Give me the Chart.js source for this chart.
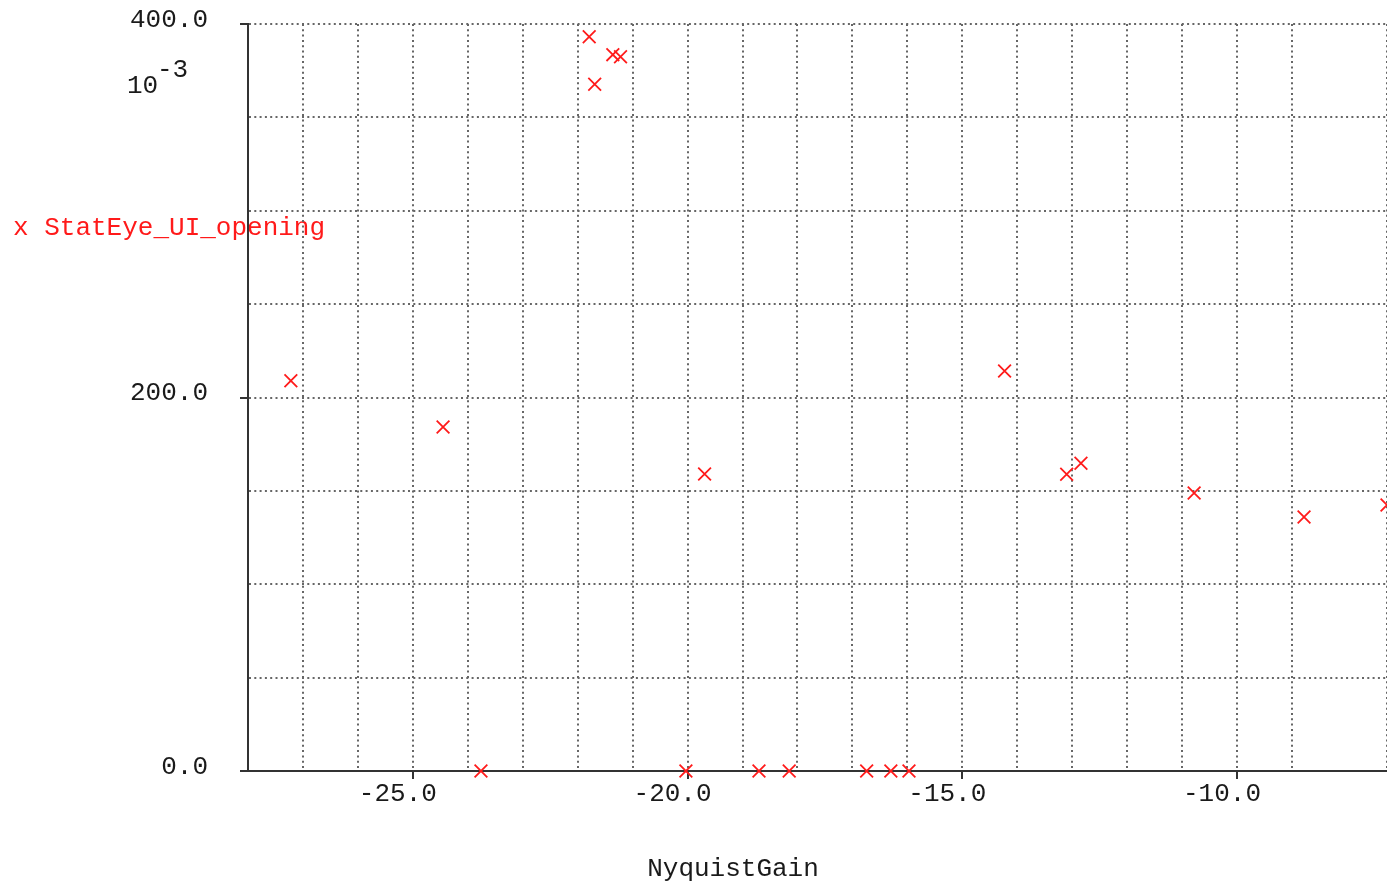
<!DOCTYPE html>
<html>
<head>
<meta charset="utf-8">
<script src="https://cdn.jsdelivr.net/npm/chart.js@4/dist/chart.umd.min.js"></script>
<style>
  html, body { margin: 0; padding: 0; background: #fff; }
  #wrap { width: 1387px; height: 885px; }
</style>
</head>
<body>
<div id="wrap"><canvas id="chart" width="1387" height="885"></canvas></div>
<script>
// NyquistGain vs StatEye_UI_opening (values in units of 10^-3)
const seriesName = 'StatEye_UI_opening';
const nyquistGain = [-27.22, -24.45, -23.76, -21.79, -21.69, -21.36, -21.22, -20.03, -19.69, -18.70,
                     -18.15, -16.74, -16.30, -15.97, -14.23, -13.10, -12.84, -10.78, -8.78, -7.27];
const uiOpening = [209.0, 184.2, 0, 393.2, 367.7, 383.6, 382.5, 0, 159.0, 0,
                   0, 0, 0, 0, 214.2, 158.9, 164.8, 148.9, 136.0, 142.4];
const xRange = [-28, -7.27];
const yRange = [0, 400];
const xLabelEvery = 5;     // labelled x ticks
const yLabelEvery = 200;   // labelled y ticks

const FONT = '"Liberation Mono", "DejaVu Sans Mono", monospace';
const AXIS = '#333';
const GRID = '#666';
const RED = '#ff1a1a';

const points = nyquistGain.map((x, i) => ({ x: x, y: uiOpening[i] }));

// axis exponent, legend and x title (drawn under the axes)
const overlayText = {
  id: 'overlayText',
  beforeDraw(chart) {
    const ctx = chart.ctx;
    ctx.save();
    ctx.font = '26px ' + FONT;
    ctx.textBaseline = 'alphabetic';
    ctx.fillStyle = '#1a1a1a';
    ctx.fillText('10', 127, 93);
    ctx.fillText('-3', 157, 77);
    ctx.fillStyle = RED;
    ctx.fillText('x ' + seriesName, 13, 235);
    ctx.fillStyle = '#1a1a1a';
    ctx.textAlign = 'center';
    ctx.fillText('NyquistGain', 733, 876);
    ctx.restore();
  }
};

new Chart(document.getElementById('chart'), {
  type: 'scatter',
  data: {
    datasets: [{
      label: seriesName,
      data: points,
      pointStyle: 'crossRot',
      pointRadius: 9,
      pointHoverRadius: 9,
      borderColor: RED,
      backgroundColor: RED,
      pointBorderWidth: 1.8,
      clip: false
    }]
  },
  options: {
    responsive: false,
    animation: false,
    events: [],
    layout: { autoPadding: false, padding: { top: 24, left: 0, right: 0, bottom: 0 } },
    plugins: {
      legend: { display: false },
      tooltip: { enabled: false }
    },
    scales: {
      x: {
        type: 'linear',
        min: xRange[0],
        max: xRange[1],
        bounds: 'data',
        afterFit: (s) => { s.height = 114; s.paddingLeft = 0; s.paddingRight = 0; },
        ticks: {
          stepSize: 1,
          autoSkip: false,
          maxRotation: 0,
          padding: 0,
          labelOffset: -15,
          color: '#1a1a1a',
          font: { family: FONT, size: 26, lineHeight: 1.2 },
          callback: (v) => (Math.abs(v % xLabelEvery) < 1e-9 ? v.toFixed(1) : '')
        },
        grid: {
          color: GRID,
          lineWidth: 2,
          tickLength: 8,
          tickWidth: 2,
          tickColor: (c) => (c.tick && Math.abs(c.tick.value % xLabelEvery) < 1e-9 ? AXIS : 'rgba(0,0,0,0)')
        },
        border: { display: true, color: AXIS, width: 2, dash: [2, 3.3] }
      },
      y: {
        type: 'linear',
        min: yRange[0],
        max: yRange[1],
        afterFit: (s) => { s.width = 248; s.paddingTop = 0; s.paddingBottom = 0; },
        ticks: {
          stepSize: 50,
          padding: 32,
          labelOffset: -4,
          color: '#1a1a1a',
          font: { family: FONT, size: 26, lineHeight: 1.2 },
          callback: (v) => (v % yLabelEvery === 0 ? v.toFixed(1) : '')
        },
        grid: {
          color: GRID,
          lineWidth: 2,
          tickLength: 8,
          tickWidth: 2,
          tickColor: (c) => (c.tick && c.tick.value % yLabelEvery === 0 ? AXIS : 'rgba(0,0,0,0)')
        },
        border: { display: true, color: AXIS, width: 2, dash: [2, 3.3] }
      }
    }
  },
  plugins: [overlayText]
});
</script>
</body>
</html>
